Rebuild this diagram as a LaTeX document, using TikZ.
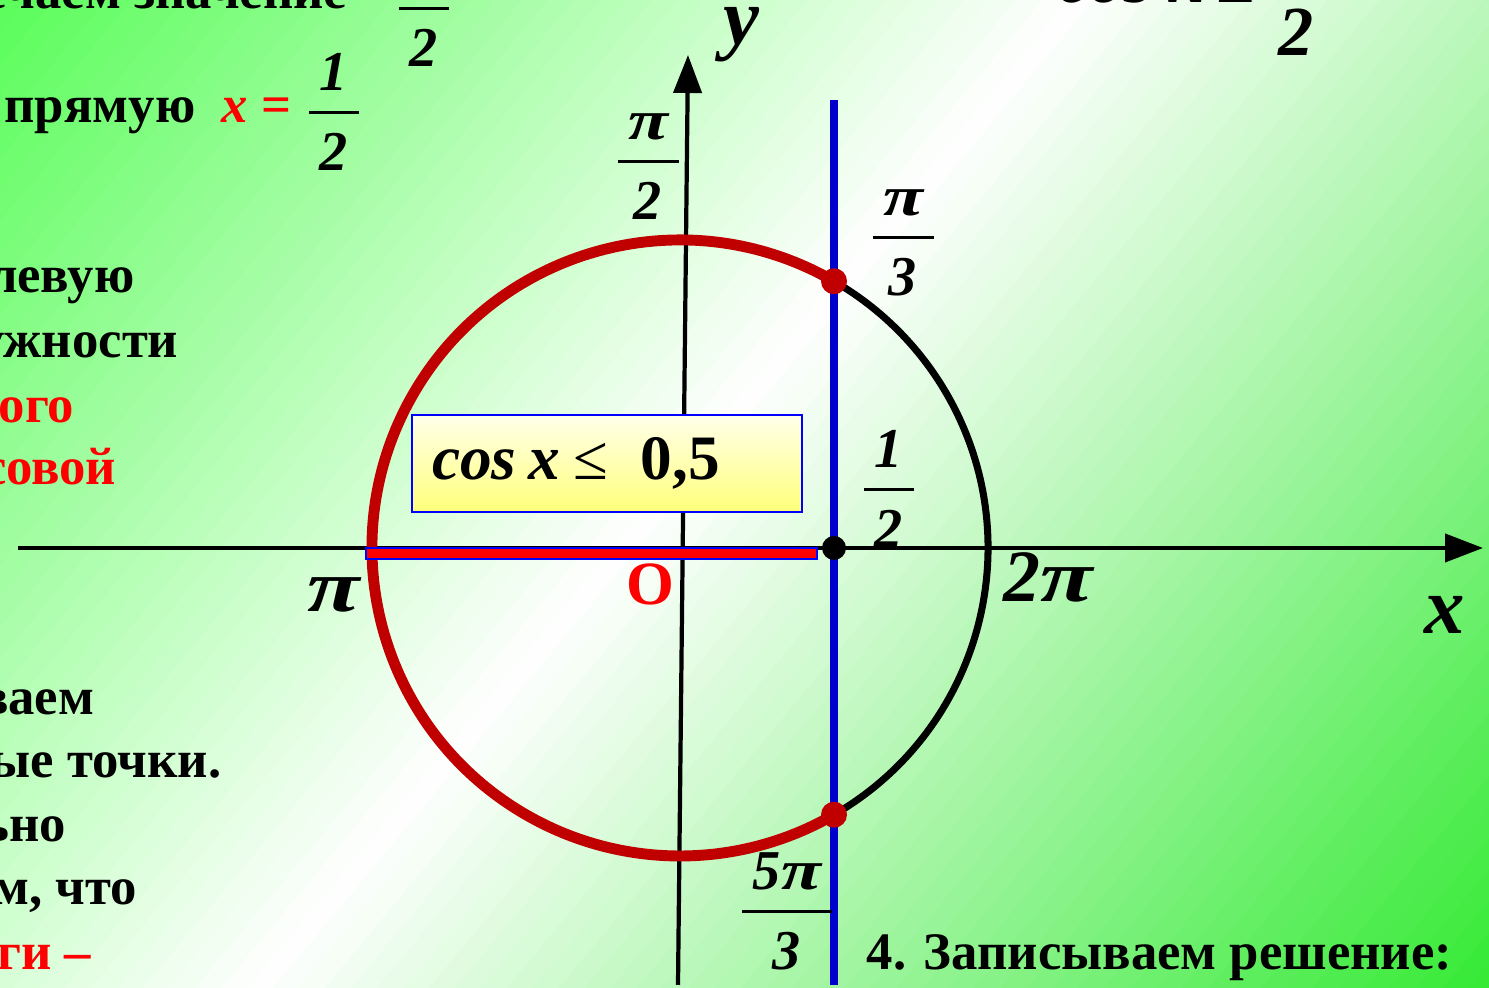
\documentclass[tikz,border=0pt]{standalone}
\usepackage{fontspec}
\usepackage{graphicx}
\setmainfont{Liberation Serif}
\usetikzlibrary{arrows.meta,positioning}
\definecolor{arcred}{HTML}{C00000}
\definecolor{lineblue}{HTML}{0000CC}
\definecolor{boxyellow}{HTML}{FFFF7A}
\definecolor{boxlight}{HTML}{FFFFEA}
\setlength{\arrayrulewidth}{0.9pt}
\newcommand{\fr}[2]{\begin{tabular}{@{\hspace{3pt}}c@{\hspace{3pt}}}#1\\\hline\rule{0pt}{1em}#2\end{tabular}}
\newcommand{\wpi}{\scalebox{1.3}[1]{π}}

\begin{document}
\begin{tikzpicture}[>={Triangle[length=0.38cm,width=0.28cm]},
  body/.style={font=\fontsize{15}{18}\selectfont\bfseries,inner sep=0pt,anchor=base east},
  lbl/.style={font=\fontsize{16}{19.2}\selectfont\bfseries\itshape,inner sep=0pt},
  biglbl/.style={lbl,font=\fontsize{21}{25}\selectfont\bfseries\itshape},
  axisline/.style={line width=1.2pt},
  condbox/.style={draw=blue,line width=0.8pt,top color=boxlight,bottom color=boxyellow,
    minimum height=0.97cm,text width=3.5cm,inner xsep=0.2cm,align=left,
    font=\fontsize{18}{21}\selectfont\bfseries}]
\useasboundingbox (0,0) rectangle (14.89,9.88);
% green - white - green background, in strips across the diagonal
\begin{scope}
\clip (0,0) rectangle (14.89,9.88);
\foreach \t in {-6.5,-6.3,...,11.7}{
  \pgfmathsetmacro{\f}{\t<1.9 ? (\t+6.31)/8.21 : (11.45-\t)/9.55}
  \pgfmathsetmacro{\f}{max(0,min(1,\f))}
  \pgfmathtruncatemacro{\r}{\t<1.9 ? 92+163*\f : 51+204*\f}
  \pgfmathtruncatemacro{\g}{\t<1.9 ? 253+2*\f : 234+21*\f}
  \definecolor{strip}{RGB}{\r,\g,\r}
  \fill[strip] ({\t*0.769-25*0.639},{-\t*0.639-25*0.769}) -- ({\t*0.769+25*0.639},{-\t*0.639+25*0.769})
    -- ({(\t+0.22)*0.769+25*0.639},{-(\t+0.22)*0.639+25*0.769}) -- ({(\t+0.22)*0.769-25*0.639},{-(\t+0.22)*0.639-25*0.769}) -- cycle;
}
\end{scope}

% points of the circle
\coordinate (O) at (6.80,4.40);
\path (O) ++(60:3.08) coordinate (A);
\path (O) ++(-60:3.08) coordinate (B);
\coordinate (H) at (A |- O);
\coordinate (xstart) at (0.18,4.40);
\coordinate (xend) at (14.83,4.40);
\coordinate (ystart) at (6.78,0.03);
\coordinate (yend) at (6.88,9.33);
\coordinate (vtop) at (A |- 0,8.88);
\coordinate (vbot) at (A |- 0,0.03);

% axes
\draw[axisline,->] (xstart) -- (xend);
\draw[axisline,->] (ystart) -- (yend);

% unit circle
\draw[line width=2pt] (B) arc[start angle=-60,end angle=60,radius=3.08];
\draw[arcred,line width=3.1pt] (A) arc[start angle=60,end angle=300,radius=3.08];
\draw[blue,line width=0.6pt,fill=red] (3.66,4.40) rectangle (8.17,4.29);
\draw[lineblue,line width=2.2pt] (vtop) -- (vbot);
\fill[arcred] (A) circle (0.13);
\fill[arcred] (B) circle (0.13);
\fill (H) circle (0.12);

\node[condbox] (cond) at (6.07,5.245) {{\itshape cos\hspace{0.2em}x}\hspace{0.2em}{\mdseries ≤}\hspace{0.52em}0,5};

% labels
\node[lbl] (pihalf) at (6.48,8.22) {\fr{\wpi}{2}};
\node[lbl] (pithird) at (9.03,7.46) {\fr{\wpi}{3}};
\node[lbl] (half) at (8.89,4.94) {\fr{1}{2}};
\node[lbl] (fivepi) at (7.87,0.72) {\fr{5\wpi}{3}};
\node[biglbl] (twopi) at (10.48,4.11) {2\wpi};
\node[biglbl] (pi) at (3.34,3.93) {\wpi};
\node[inner sep=0pt,red,font=\fontsize{17.5}{21}\selectfont\bfseries] (orig) at (6.50,4.04) {O};
\node[lbl,font=\fontsize{23}{27}\selectfont\bfseries\itshape] (xlbl) at (14.45,3.73) {x};
\node[lbl,font=\fontsize{23}{27}\selectfont\bfseries\itshape] (ylbl) at (7.41,9.53) {y};

% text of the slide
\node[body] (t1) at (3.48,9.79) {мечаем значение};
\node[lbl] (t1f) at (4.24,9.75) {\fr{1}{2}};
\node[body,font=\fontsize{20}{24}\selectfont\bfseries] (t0) at (12.56,9.85) {{\itshape cos x}\,{\mdseries ≤}};
\node[lbl,font=\fontsize{20}{24}\selectfont\bfseries\itshape] (t0f) at (12.96,9.99) {\fr{1}{2}};
\node[body] (t2) at (2.92,8.65) {прямую\ \ {\color{red}\itshape x \upshape=}};
\node[lbl] (t2f) at (3.34,8.71) {\fr{1}{2}};
\node[body] (t3) at (1.35,6.95) {левую};
\node[body] (t4) at (1.79,6.30) {ужности};
\node[body,red] (t5) at (0.75,5.65) {ого};
\node[body,red] (t6) at (1.17,5.03) {совой};
\node[body] (t7) at (0.95,2.73) {ваем};
\node[body] (t8) at (2.22,2.10) {ые точки.};
\node[body] (t9) at (0.67,1.46) {ьно};
\node[body] (t10) at (1.38,0.83) {м, что};
\node[body,red] (t11) at (0.92,0.18) {ги –};
\node[body,anchor=base west] (t12) at (8.66,0.18) {4. Записываем решение:};
\end{tikzpicture}
\end{document}
